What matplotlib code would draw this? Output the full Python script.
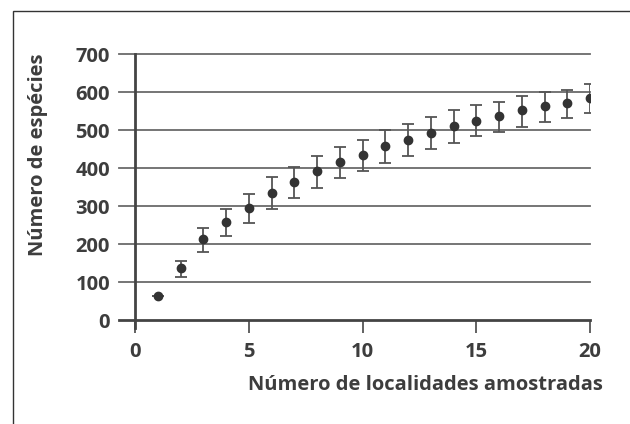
import matplotlib
matplotlib.use("Agg")
import matplotlib.pyplot as plt
from matplotlib.patches import Rectangle

# Data
localidades = [1, 2, 3, 4, 5, 6, 7, 8, 9, 10, 11, 12, 13, 14, 15, 16, 17, 18, 19, 20]
especies = [63, 136, 212, 259, 294, 335, 364, 392, 417, 434, 458, 475, 493, 511, 525, 538, 553, 563, 571, 584]
limite_inf = [63, 114, 180, 222, 254, 291, 320, 348, 373, 393, 414, 432, 450, 467, 484, 496, 509, 520, 531, 545]
limite_sup = [63, 156, 243, 292, 331, 377, 403, 432, 456, 475, 500, 517, 533, 552, 565, 575, 589, 600, 606, 620]
yticks = [0, 100, 200, 300, 400, 500, 600, 700]
xticks = [0, 5, 10, 15, 20]

err_lo = [e - l for e, l in zip(especies, limite_inf)]
err_hi = [u - e for e, u in zip(especies, limite_sup)]

W, H = 630, 424
fig = plt.figure(figsize=(W / 100, H / 100), dpi=100)
fig.patch.set_facecolor("white")

# outer frame (left and top visible)
fig.add_artist(Rectangle((12.5 / W, -0.1), 1.2, 1 - 11 / H + 0.1, transform=fig.transFigure,
                         fill=False, edgecolor="#333333", linewidth=1.0))

ax = fig.add_axes([135 / W, 1 - 320 / H, (590 - 135) / W, (320 - 54) / H])
ax.set_xlim(0, 20)
ax.set_ylim(0, 700)

font = dict(family=["Open Sans", "DejaVu Sans"], weight="bold", color="#3d3d3d")

# gridlines extending left as ticks
for yv in yticks[1:]:
    ax.plot([-0.7, 20], [yv, yv], color="#6a6a6a", lw=1.3, clip_on=False, zorder=1)

ax.errorbar(localidades, especies, yerr=[err_lo, err_hi], fmt="o", color="#333333",
            ecolor="#555555", elinewidth=1.3, capsize=4, capthick=1.3, markersize=6, zorder=3)

for s in ["top", "right"]:
    ax.spines[s].set_visible(False)
ax.spines["left"].set_color("#444444")
ax.spines["bottom"].set_color("#444444")
ax.spines["left"].set_linewidth(2)
ax.spines["bottom"].set_linewidth(2)
ax.spines["left"].set_bounds(-20, 700)
ax.spines["bottom"].set_bounds(-0.7, 20)

ax.set_yticks(yticks)
ax.set_xticks(xticks)
ax.tick_params(axis="y", length=0, pad=18)
ax.tick_params(axis="x", length=9.5, width=1.3, color="#555555", pad=6)
ax.set_yticklabels([str(v) for v in yticks], fontsize=14.5, **font)
ax.set_xticklabels([str(v) for v in xticks], fontsize=14.5, **font)

fig.text(38 / W, 1 - 155 / H, "Número de espécies", rotation=90, ha="center", va="center",
         fontsize=14.5, **font)
fig.text(603 / W, 1 - 385 / H, "Número de localidades amostradas", ha="right", va="center",
         fontsize=14.5, **font)

fig.savefig("out.png", dpi=100, facecolor="white")
